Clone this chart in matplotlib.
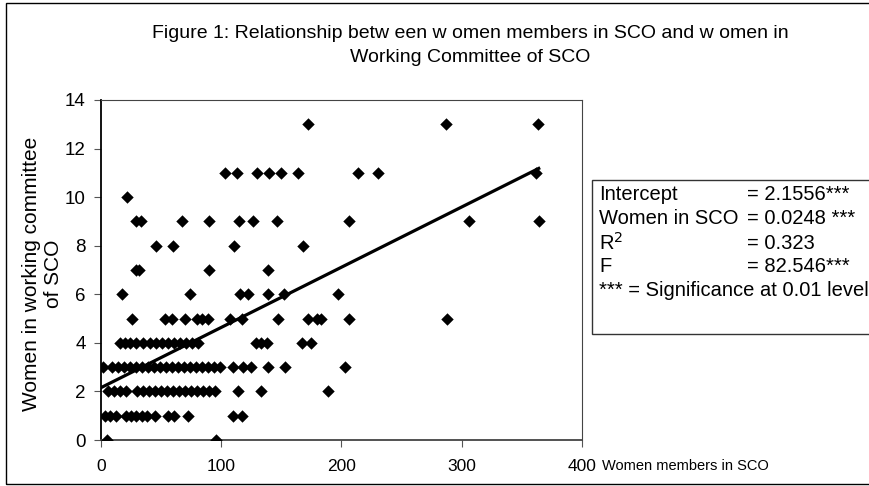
import numpy as np
import matplotlib
matplotlib.use('Agg')
import matplotlib.pyplot as plt
from matplotlib.patches import Rectangle

plt.rcParams['font.family'] = ['Liberation Sans', 'DejaVu Sans']

# Women members in SCO, grouped by the number of women in the working committee
sco_wc0 = [5, 96]
sco_wc1 = [3, 7.5, 12.5, 21, 25, 29, 34, 38, 45, 56, 61, 72, 110, 117]
sco_wc2 = [6, 11, 16, 21, 30, 35, 40, 45, 50, 55, 60, 65, 70, 75, 80, 85, 90,
           95, 114, 133, 189]
sco_wc3 = [2, 9, 14, 19, 24, 29, 34, 39, 44, 49, 54, 59, 64, 69, 74, 79, 84,
           89, 94, 99, 110, 118, 125, 139, 153, 203]
sco_wc4 = [16, 20, 24, 29, 35, 41, 46, 51, 56, 61, 66, 71, 76, 81, 129, 133,
           138, 167, 175]
sco_wc5 = [26, 53, 59, 70, 80, 84, 89, 107, 117, 147, 172, 180, 183, 206, 288]
sco_wc6 = [17.5, 74, 116, 122, 139, 152, 197]
sco_wc7 = [29, 32, 90, 139]
sco_wc8 = [46, 60, 111, 168]
sco_wc9 = [29, 33, 67, 90, 115, 126, 146, 206, 306, 364]
sco_wc10 = [22]
sco_wc11 = [103, 113, 130, 140, 150, 164, 214, 230, 362]
sco_wc13 = [172, 287, 363]

wc_levels = [0, 1, 2, 3, 4, 5, 6, 7, 8, 9, 10, 11, 13]
sco_groups = [sco_wc0, sco_wc1, sco_wc2, sco_wc3, sco_wc4, sco_wc5, sco_wc6,
              sco_wc7, sco_wc8, sco_wc9, sco_wc10, sco_wc11, sco_wc13]

# regression results
intercept = 2.1556
slope = 0.0248
stat_labels = ['Intercept', 'Women in SCO', 'R$^2$', 'F',
               '*** = Significance at 0.01 level']
stat_values = ['= 2.1556***', '= 0.0248 ***', '= 0.323', '= 82.546***', '']

x = np.concatenate(sco_groups)
y = np.concatenate([[lv] * len(g) for lv, g in zip(wc_levels, sco_groups)])

fig = plt.figure(figsize=(8.7, 4.86), dpi=100)
W, H = 870, 486

# outer chart border
fig.patches.append(Rectangle((6 / W, 2 / H), 1.0, 1 - 5 / H, transform=fig.transFigure,
                             fill=False, edgecolor='black', linewidth=1.0))

ax = fig.add_axes([101 / W, 1 - 440 / H, 481 / W, 340 / H])
ax.scatter(x, y, marker='D', s=40, color='black', linewidths=0, zorder=3)
xl = np.array([0, x.max()])
ax.plot(xl, intercept + slope * xl, color='black', linewidth=2.3, zorder=4)

ax.set_xlim(0, 400)
ax.set_ylim(0, 14)
ax.set_xticks([0, 100, 200, 300, 400])
ax.set_yticks(range(0, 15, 2))
ax.tick_params(length=5, color='#555555', direction='out')
ax.tick_params(axis='x', labelsize=12.5, pad=9)
ax.tick_params(axis='y', labelsize=13.5, pad=6)
for side in ['top', 'right', 'bottom']:
    ax.spines[side].set_color('#444444')
ax.spines['left'].set_color('black')
ax.spines['left'].set_linewidth(1.3)
ax.spines['bottom'].set_linewidth(1.3)

fig.text(470 / W, 1 - 33 / H, 'Figure 1: Relationship betw een w omen members in SCO and w omen in',
         ha='center', va='center', fontsize=14)
fig.text(470 / W, 1 - 58 / H, 'Working Committee of SCO', ha='center', va='center', fontsize=14)

fig.text(43 / W, 1 - 274 / H, 'Women in working committee\nof SCO', rotation=90,
         ha='center', va='center', fontsize=15, linespacing=1.2)
fig.text(602 / W, 1 - 466 / H, 'Women members in SCO', ha='left', va='center', fontsize=10.5)

# statistics box
fig.patches.append(Rectangle((592 / W, 1 - 334 / H), 0.5, 154 / H, transform=fig.transFigure,
                             facecolor='white', edgecolor='#333333', linewidth=1.0, zorder=5))
for i, (lab, val) in enumerate(zip(stat_labels, stat_values)):
    ypos = 1 - (195 + 24 * i) / H
    fig.text(599 / W, ypos, lab, ha='left', va='center', fontsize=14.5, zorder=6)
    if val:
        fig.text(747 / W, ypos, val, ha='left', va='center', fontsize=14.5, zorder=6)

fig.savefig('out.png', dpi=100)
